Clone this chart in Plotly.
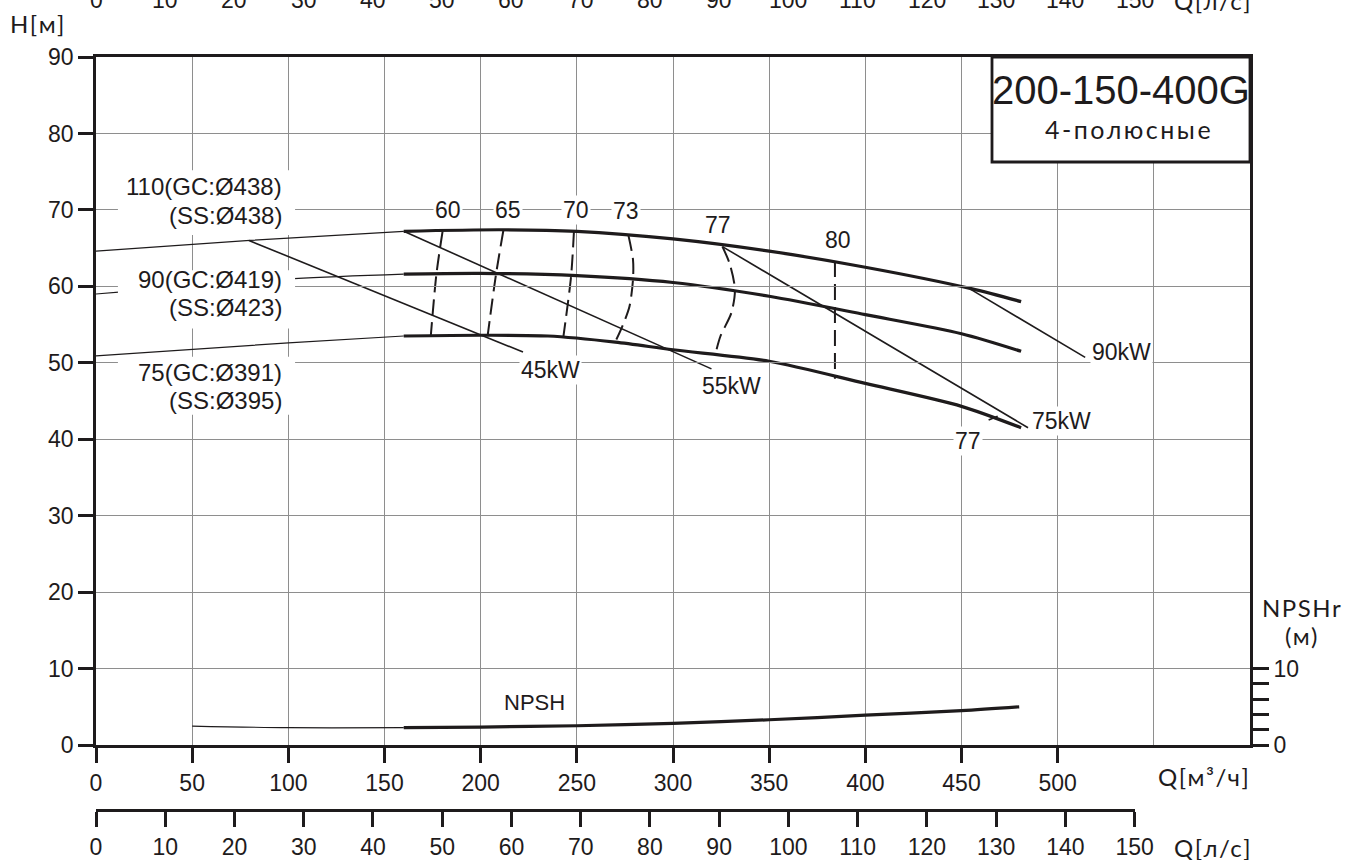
import plotly.graph_objects as go

# ---------------- data ----------------
Q_M3H_TICKS = [0, 50, 100, 150, 200, 250, 300, 350, 400, 450, 500]
Q_LS_TICKS = [0, 10, 20, 30, 40, 50, 60, 70, 80, 90, 100, 110, 120, 130, 140, 150]
H_TICKS = [0, 10, 20, 30, 40, 50, 60, 70, 80, 90]
NPSHR_TICKS = [0, 2, 4, 6, 8, 10]
NPSHR_TICKTEXT = ["0", "", "", "", "", "10"]

# H-Q curves (Q in m3/h, H in m)
D438_EXT_Q = [0, 80, 160]
D438_EXT_H = [64.6, 66.0, 67.2]
D438_Q = [160, 210, 250, 300, 350, 400, 455, 481]
D438_H = [67.2, 67.4, 67.2, 66.2, 64.6, 62.5, 59.7, 58.0]

D419_EXT_Q = [0, 103, 160]
D419_EXT_H = [59.0, 61.0, 61.6]
D419_Q = [160, 200, 250, 300, 350, 400, 450, 481]
D419_H = [61.6, 61.7, 61.4, 60.5, 58.7, 56.3, 53.8, 51.5]

D391_EXT_Q = [0, 100, 160]
D391_EXT_H = [50.9, 52.6, 53.5]
D391_Q = [160, 200, 235, 270, 300, 350, 400, 450, 481]
D391_H = [53.5, 53.6, 53.5, 52.7, 51.7, 50.2, 47.3, 44.3, 41.5]

# efficiency iso-lines
EFF60_Q = [180.2, 177.0, 174.1]
EFF60_H = [67.2, 61.6, 53.6]
EFF65_Q = [211.8, 208.0, 203.6]
EFF65_H = [67.3, 61.6, 53.5]
EFF70_Q = [248.5, 247.0, 243.0]
EFF70_H = [67.2, 61.3, 53.4]
EFF73_Q = [276.8, 279.2, 279.2, 277.4, 273.7, 269.9]
EFF73_H = [66.7, 63.5, 60.9, 57.4, 54.8, 52.7]
EFF77_Q = [325.7, 329.4, 332.2, 330.3, 324.7, 321.9]
EFF77_H = [65.2, 63.0, 59.6, 56.5, 53.5, 51.0]
EFF80_Q = [384.2, 384.2]
EFF80_H = [63.3, 47.9]
EFF77B_Q = [464.1, 468.8]
EFF77B_H = [42.5, 43.0]

# power lines
P45_Q = [79.5, 222.0]
P45_H = [66.0, 51.4]
P55_Q = [160.0, 320.0]
P55_H = [67.2, 49.2]
P75_Q = [325.7, 484.6]
P75_H = [65.2, 41.5]
P90_Q = [454.8, 514.3]
P90_H = [59.6, 50.7]

# NPSH
NPSH_EXT_Q = [50, 100, 160]
NPSH_EXT_H = [2.48, 2.26, 2.26]
NPSH_Q = [160, 200, 250, 300, 350, 400, 450, 480]
NPSH_H = [2.26, 2.35, 2.52, 2.83, 3.3, 3.9, 4.5, 5.0]

EFF_LABELS = ["60", "65", "70", "73", "77", "80", "77"]
POWER_LABELS = ["45kW", "55kW", "75kW", "90kW"]
DIAM_LABELS = ["110(GC:Ø438)", "(SS:Ø438)", "90(GC:Ø419)", "(SS:Ø423)", "75(GC:Ø391)", "(SS:Ø395)"]

# ---------------- styling ----------------
INK = "#1e1b1c"
GRID = "#8e8e8e"
ARIAL = "Liberation Sans, Arial, sans-serif"
GEO = "Lato, Noto Sans, sans-serif"

fig = go.Figure()


def line(q, h, width, dash=None, yaxis="y", shape="spline"):
    fig.add_trace(go.Scatter(
        x=q, y=h, mode="lines", yaxis=yaxis,
        line=dict(color=INK, width=width, dash=dash, shape=shape, smoothing=0.8),
        hoverinfo="skip", showlegend=False))


for q, h in [(D438_EXT_Q, D438_EXT_H), (D419_EXT_Q, D419_EXT_H), (D391_EXT_Q, D391_EXT_H)]:
    line(q, h, 1.2)
for q, h in [(P45_Q, P45_H), (P55_Q, P55_H), (P75_Q, P75_H), (P90_Q, P90_H), (EFF77B_Q, EFF77B_H)]:
    line(q, h, 1.6, shape="linear")
for q, h in [(EFF60_Q, EFF60_H), (EFF65_Q, EFF65_H), (EFF70_Q, EFF70_H),
             (EFF73_Q, EFF73_H), (EFF77_Q, EFF77_H), (EFF80_Q, EFF80_H)]:
    line(q, h, 2.0, dash="16px,7px")
for q, h in [(D438_Q, D438_H), (D419_Q, D419_H), (D391_Q, D391_H)]:
    line(q, h, 3.2)

line(NPSH_EXT_Q, NPSH_EXT_H, 1.2, yaxis="y2")
line(NPSH_Q, NPSH_H, 3.2, yaxis="y2")

# carrier trace for the l/s scale
fig.add_trace(go.Scatter(x=Q_LS_TICKS, y=[0] * len(Q_LS_TICKS), xaxis="x2", yaxis="y",
                         mode="markers", marker=dict(opacity=0), hoverinfo="skip",
                         showlegend=False))

W, H = 1351, 860
L, R, T, B = 96, 101, 57, 50
PW = W - L - R
plot_h = H - T - B
ydom0 = (H - B - 745) / plot_h


def px(xp):
    return (xp - L) / PW


def py(yp):
    return (H - B - yp) / plot_h


axis_font = dict(family=ARIAL, size=23, color=INK)

fig.update_layout(
    width=W, height=H, autosize=False,
    margin=dict(l=L, r=R, t=T, b=B, pad=0, autoexpand=False),
    paper_bgcolor="white", plot_bgcolor="rgba(0,0,0,0)",
    showlegend=False,
    xaxis=dict(range=[0, 600], tickmode="array", tickvals=Q_M3H_TICKS, automargin=False,
               showgrid=True, gridcolor=GRID, gridwidth=1,
               minor=dict(tickmode="array", tickvals=[550], showgrid=True, gridcolor=GRID,
                          gridwidth=1, ticks=""),
               ticks="outside", ticklen=15, tickwidth=2.5, tickcolor=INK,
               showline=True, linecolor=INK, linewidth=2.8, mirror=True,
               zeroline=False, tickfont=axis_font, anchor="y"),
    xaxis2=dict(domain=[0, 540 / 600], range=[0, 150], anchor="free", position=0,
                automargin=False,
                tickmode="array", tickvals=Q_LS_TICKS, showgrid=False,
                ticks="outside", ticklen=15, tickwidth=2.5, tickcolor=INK,
                showline=True, linecolor=INK, linewidth=2.8, zeroline=False,
                tickfont=axis_font),
    yaxis=dict(domain=[ydom0, 1], range=[0, 90], tickmode="array", tickvals=H_TICKS,
               automargin=False,
               showgrid=True, gridcolor=GRID, gridwidth=1,
               ticks="outside", ticklen=15, tickwidth=2.5, tickcolor=INK,
               showline=True, linecolor=INK, linewidth=2.8, mirror=True,
               zeroline=False, tickfont=axis_font),
    yaxis2=dict(overlaying="y", side="right", anchor="x", range=[0, 90], automargin=False,
                tickmode="array", tickvals=NPSHR_TICKS, ticktext=NPSHR_TICKTEXT,
                showgrid=False, ticks="outside", ticklen=16, tickwidth=2.5, tickcolor=INK,
                showline=True, linecolor=INK, linewidth=2.8, zeroline=False,
                tickfont=axis_font),
)

ann = []
lab_font = dict(family=ARIAL, size=23, color=INK)

# efficiency labels
eff_pos = [(183, 70.0), (214, 70.0), (249.5, 70.0), (275.8, 69.8), (323.2, 68.0), (385.7, 66.0), (453.6, 39.8)]
for t, (x, y) in zip(EFF_LABELS, eff_pos):
    ann.append(dict(x=x, y=y, xref="x", yref="y", text=t, showarrow=False, font=lab_font,
                    xanchor="center", yanchor="middle", bgcolor="white", borderpad=1))

pow_pos = [(236.5, 49.1), (330.5, 46.9), (502, 42.4), (533, 51.4)]
for t, (x, y) in zip(POWER_LABELS, pow_pos):
    ann.append(dict(x=x, y=y, xref="x", yref="y", text=t, showarrow=False, font=lab_font,
                    xanchor="center", yanchor="middle", bgcolor="white", borderpad=1))

# white backing boxes behind the impeller-diameter labels
for y0, y1 in [(66.7, 75.2), (54.5, 62.1), (43.2, 50.8)]:
    fig.add_shape(type="rect", xref="x", yref="y", x0=11.4, x1=103.5, y0=y0, y1=y1,
                  line=dict(width=0), fillcolor="white", layer="above")

diam_y = [73.0, 69.33, 60.83, 57.17, 48.67, 45.13]
for t, y in zip(DIAM_LABELS, diam_y):
    ann.append(dict(x=97, y=y, xref="x", yref="y", text=t, showarrow=False,
                    font=dict(family=ARIAL, size=24, color=INK),
                    align="right", xanchor="right", yanchor="middle", borderpad=0))

ann.append(dict(x=228, y=5.6, xref="x", yref="y2", text="NPSH", showarrow=False,
                xanchor="center", yanchor="middle",
                font=dict(family=ARIAL, size=22, color=INK)))

# cut-off l/s scale at the very top edge
ytop = py(0)
for v in Q_LS_TICKS:
    ann.append(dict(x=v, y=ytop, xref="x2", yref="paper", text=str(v), showarrow=False,
                    font=axis_font, xanchor="center", yanchor="middle"))


def spaced(s, sp=1.5):
    return '<span style="letter-spacing:%spx">%s</span>' % (sp, s)


geo_font = dict(family=GEO, size=24, color=INK)
ann.append(dict(x=px(1213), y=ytop, xref="paper", yref="paper", text=spaced("Q[л/с]"),
                showarrow=False, font=geo_font, xanchor="center", yanchor="middle"))

# axis titles
for text, xp, yp in [("H[м]", 38, 23), ("Q[м³/ч]", 1204, 776), ("Q[л/с]", 1213, 847),
                     ("NPSHr", 1302, 607), ("(м)", 1302, 635)]:
    ann.append(dict(x=px(xp), y=py(yp), xref="paper", yref="paper", text=spaced(text),
                    showarrow=False, font=geo_font, xanchor="center", yanchor="middle"))

# title box
ann.append(dict(x=px(1121), y=py(90), xref="paper", yref="paper",
                text="200-150-400G", showarrow=False, xanchor="center", yanchor="middle",
                font=dict(family=ARIAL, size=40, color=INK)))
ann.append(dict(x=px(1129), y=py(129), xref="paper", yref="paper",
                text=spaced("4-полюсные", 2.5), showarrow=False, xanchor="center",
                yanchor="middle", font=dict(family=GEO, size=25, color=INK)))

fig.update_layout(annotations=ann)
fig.add_shape(type="rect", xref="paper", yref="paper",
              x0=px(992), x1=1, y0=py(162), y1=1,
              line=dict(color=INK, width=2.8), fillcolor="white", layer="above")

fig.write_html(
    "out.html",
    config={"displayModeBar": False},
    post_script=(
        "document.documentElement.style.overflow='hidden';"
        "document.body.style.margin='0';document.body.style.overflow='hidden';"
        "var gd=document.getElementsByClassName('plotly-graph-div')[0];"
        "gd.style.position='fixed';gd.style.left='0px';gd.style.top='0px';"
    ),
)
